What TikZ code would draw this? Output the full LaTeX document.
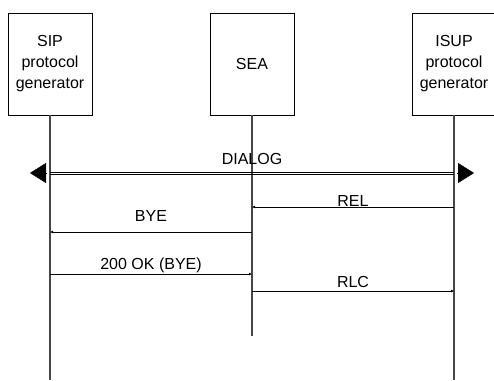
\documentclass[tikz,border=0pt]{standalone}
\usepackage{fontspec}
\setmainfont{Liberation Sans}
\usetikzlibrary{arrows.meta,positioning,calc}

\tikzset{
  entity/.style={draw, line width=0.8pt, minimum width=84pt, minimum height=102pt,
    inner sep=0pt, align=center},
  lifeline/.style={draw=gray!55!black, line width=1.4pt},
  msg/.style={draw, line width=0.6pt, -{Latex[length=3pt,width=3pt]}},
  dialogline/.style={draw, line width=0.7pt},
  dialogtip/.style={-{Triangle[length=16pt,width=20pt]}, line width=0.4pt}
}

\begin{document}
\begin{tikzpicture}[x=1pt,y=-1pt,font=\fontsize{16}{21}\selectfont]
    \useasboundingbox (0,0) rectangle (494,380);
    % entities
    \node[entity] (sip) at (50,64) {SIP\\protocol\\generator};
    \node[entity] (sea) at (252,64) {SEA};
    \node[entity] (isup) at (454,64) {ISUP\\protocol\\generator};
    % lifelines
    \coordinate (sipend) at (sip.south |- 0,380);
    \coordinate (seaend) at (sea.south |- 0,336);
    \coordinate (isupend) at (isup.south |- 0,380);
    \draw[lifeline] (sip.south) -- (sipend);
    \draw[lifeline] (sea.south) -- (seaend);
    \draw[lifeline] (isup.south) -- (isupend);
    % dialog
    \coordinate (dl) at (sip.south |- 0,173);
    \coordinate (dr) at (isup.south |- 0,173);
    \draw[dialogline] ([yshift=-1.1pt]dl) -- ([yshift=-1.1pt]dr);
    \draw[dialogline] ([yshift=1.1pt]dl) -- ([yshift=1.1pt]dr);
    \node[above=8pt, inner sep=0pt] (dialog) at ($(dl)!0.5!(dr)$) {DIALOG};
    \draw[dialogtip] ([xshift=-3pt]dl) -- ([xshift=-20pt]dl);
    \draw[dialogtip] ([xshift=3pt]dr) -- ([xshift=20pt]dr);
    % messages
    \draw[msg] (isup.south |- 0,207) -- node[above=0.5pt, inner sep=0pt] {REL} (sea.south |- 0,207);
    \draw[msg] (sea.south |- 0,232) -- node[above=10pt, inner sep=0pt] {BYE} (sip.south |- 0,232);
    \draw[msg] (sip.south |- 0,274) -- node[above=1pt, inner sep=0pt] {200 OK (BYE)} (sea.south |- 0,274);
    \draw[msg] (sea.south |- 0,291) -- node[above=3pt, inner sep=0pt] {RLC} (isup.south |- 0,291);
\end{tikzpicture}
\end{document}
